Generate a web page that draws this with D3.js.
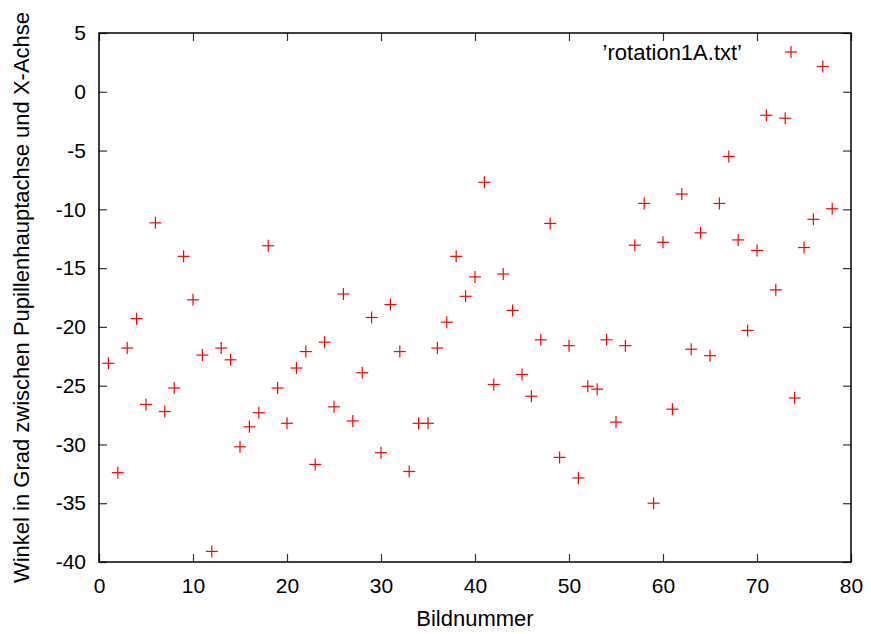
<!DOCTYPE html>
<html>
<head>
<meta charset="utf-8">
<script src="https://cdn.jsdelivr.net/npm/d3@7"></script>
<style>
  body { margin: 0; background: #fff; }
  text { font-family: "Liberation Sans", Arial, sans-serif; }
</style>
</head>
<body>
<div id="chart"></div>
<script>
// frame numbers and measured angles (deg)
const frames = [
  1, 2, 3, 4, 5, 6, 7, 8, 9, 10, 11, 12, 13, 14, 15, 16, 17, 18, 19, 20,
  21, 22, 23, 24, 25, 26, 27, 28, 29, 30, 31, 32, 33, 34, 35, 36, 37, 38, 39, 40,
  41, 42, 43, 44, 45, 46, 47, 48, 49, 50, 51, 52, 53, 54, 55, 56, 57, 58, 59, 60,
  61, 62, 63, 64, 65, 66, 67, 68, 69, 70, 71, 72, 73, 74, 75, 76, 77, 78
];
const angles = [
  -23.1, -32.4, -21.8, -19.3, -26.6, -11.15, -27.2, -25.2, -14.0, -17.7,
  -22.4, -39.1, -21.8, -22.8, -30.2, -28.5, -27.3, -13.1, -25.2, -28.2,
  -23.5, -22.1, -31.7, -21.3, -26.8, -17.2, -28.0, -23.9, -19.2, -30.7,
  -18.1, -22.1, -32.3, -28.2, -28.2, -21.8, -19.6, -14.0, -17.4, -15.75,
  -7.7, -24.9, -15.5, -18.6, -24.05, -25.9, -21.1, -11.2, -31.1, -21.6,
  -32.85, -25.05, -25.3, -21.1, -28.1, -21.6, -13.05, -9.5, -35.0, -12.8,
  -27.0, -8.7, -21.9, -12.0, -22.45, -9.5, -5.5, -12.6, -20.3, -13.5,
  -2.0, -16.85, -2.25, -26.05, -13.25, -10.85, 2.15, -9.95
];
const xTicks = [0, 10, 20, 30, 40, 50, 60, 70, 80];
const yTicks = [5, 0, -5, -10, -15, -20, -25, -30, -35, -40];
const seriesName = "\u2019rotation1A.txt\u2019";

const width = 871, height = 634;
const margin = { top: 33, right: 20, bottom: 72, left: 99 };
const tickFont = 21;
const labelFont = 22;

const svg = d3.select("#chart").append("svg")
  .attr("width", width)
  .attr("height", height);

const x = d3.scaleLinear().domain([0, 80]).range([margin.left, width - margin.right]);
const y = d3.scaleLinear().domain([-40, 5]).range([height - margin.bottom, margin.top]);

const fmt = d => String(d);

function styleAxis(g) {
  g.select(".domain").remove();
  g.selectAll(".tick line").attr("stroke", "#333").attr("stroke-width", 1.2);
  g.selectAll("text").attr("font-size", tickFont).attr("fill", "#000")
    .attr("font-family", "Liberation Sans, Arial, sans-serif");
}

// bottom + left with labels, ticks pointing inwards
svg.append("g")
  .attr("transform", `translate(0,${y(-40)})`)
  .call(d3.axisBottom(x).tickValues(xTicks).tickFormat(fmt).tickSize(-8).tickPadding(16))
  .call(styleAxis);

svg.append("g")
  .attr("transform", `translate(${x(0)},0)`)
  .call(d3.axisLeft(y).tickValues(yTicks).tickFormat(fmt).tickSize(-8).tickPadding(13))
  .call(styleAxis);

// mirrored ticks on top and right
svg.append("g")
  .attr("transform", `translate(0,${y(5)})`)
  .call(d3.axisTop(x).tickValues(xTicks).tickFormat("").tickSize(-8))
  .call(styleAxis);

svg.append("g")
  .attr("transform", `translate(${x(80)},0)`)
  .call(d3.axisRight(y).tickValues(yTicks).tickFormat("").tickSize(-8))
  .call(styleAxis);

// border
svg.append("rect")
  .attr("x", x(0)).attr("y", y(5))
  .attr("width", x(80) - x(0)).attr("height", y(-40) - y(5))
  .attr("fill", "none").attr("stroke", "#000").attr("stroke-width", 1.5);

// axis titles
svg.append("text")
  .attr("x", (x(0) + x(80)) / 2)
  .attr("y", 626)
  .attr("text-anchor", "middle")
  .attr("font-size", labelFont)
  .text("Bildnummer");

svg.append("text")
  .attr("transform", `translate(29,${(y(5) + y(-40)) / 2}) rotate(-90)`)
  .attr("text-anchor", "middle")
  .attr("font-size", labelFont)
  .text("Winkel in Grad zwischen Pupillenhauptachse und X-Achse");

// plus markers
const half = 6;
function plus(sel) {
  sel.append("line")
    .attr("x1", d => d.px - half).attr("x2", d => d.px + half)
    .attr("y1", d => d.py).attr("y2", d => d.py);
  sel.append("line")
    .attr("x1", d => d.px).attr("x2", d => d.px)
    .attr("y1", d => d.py - half).attr("y2", d => d.py + half);
}

const points = frames.map((f, i) => ({ px: x(f), py: y(angles[i]) }));

svg.append("g")
  .attr("stroke", "#ff0000")
  .attr("stroke-width", 1.2)
  .selectAll("g")
  .data(points)
  .enter()
  .append("g")
  .call(plus);

// key
const keyY = 52;
svg.append("text")
  .attr("x", 742)
  .attr("y", keyY)
  .attr("dy", "0.35em")
  .attr("text-anchor", "end")
  .attr("font-size", labelFont)
  .text(seriesName);

svg.append("g")
  .attr("stroke", "#ff0000")
  .attr("stroke-width", 1.2)
  .selectAll("g")
  .data([{ px: 791, py: keyY }])
  .enter()
  .append("g")
  .call(plus);
</script>
</body>
</html>
